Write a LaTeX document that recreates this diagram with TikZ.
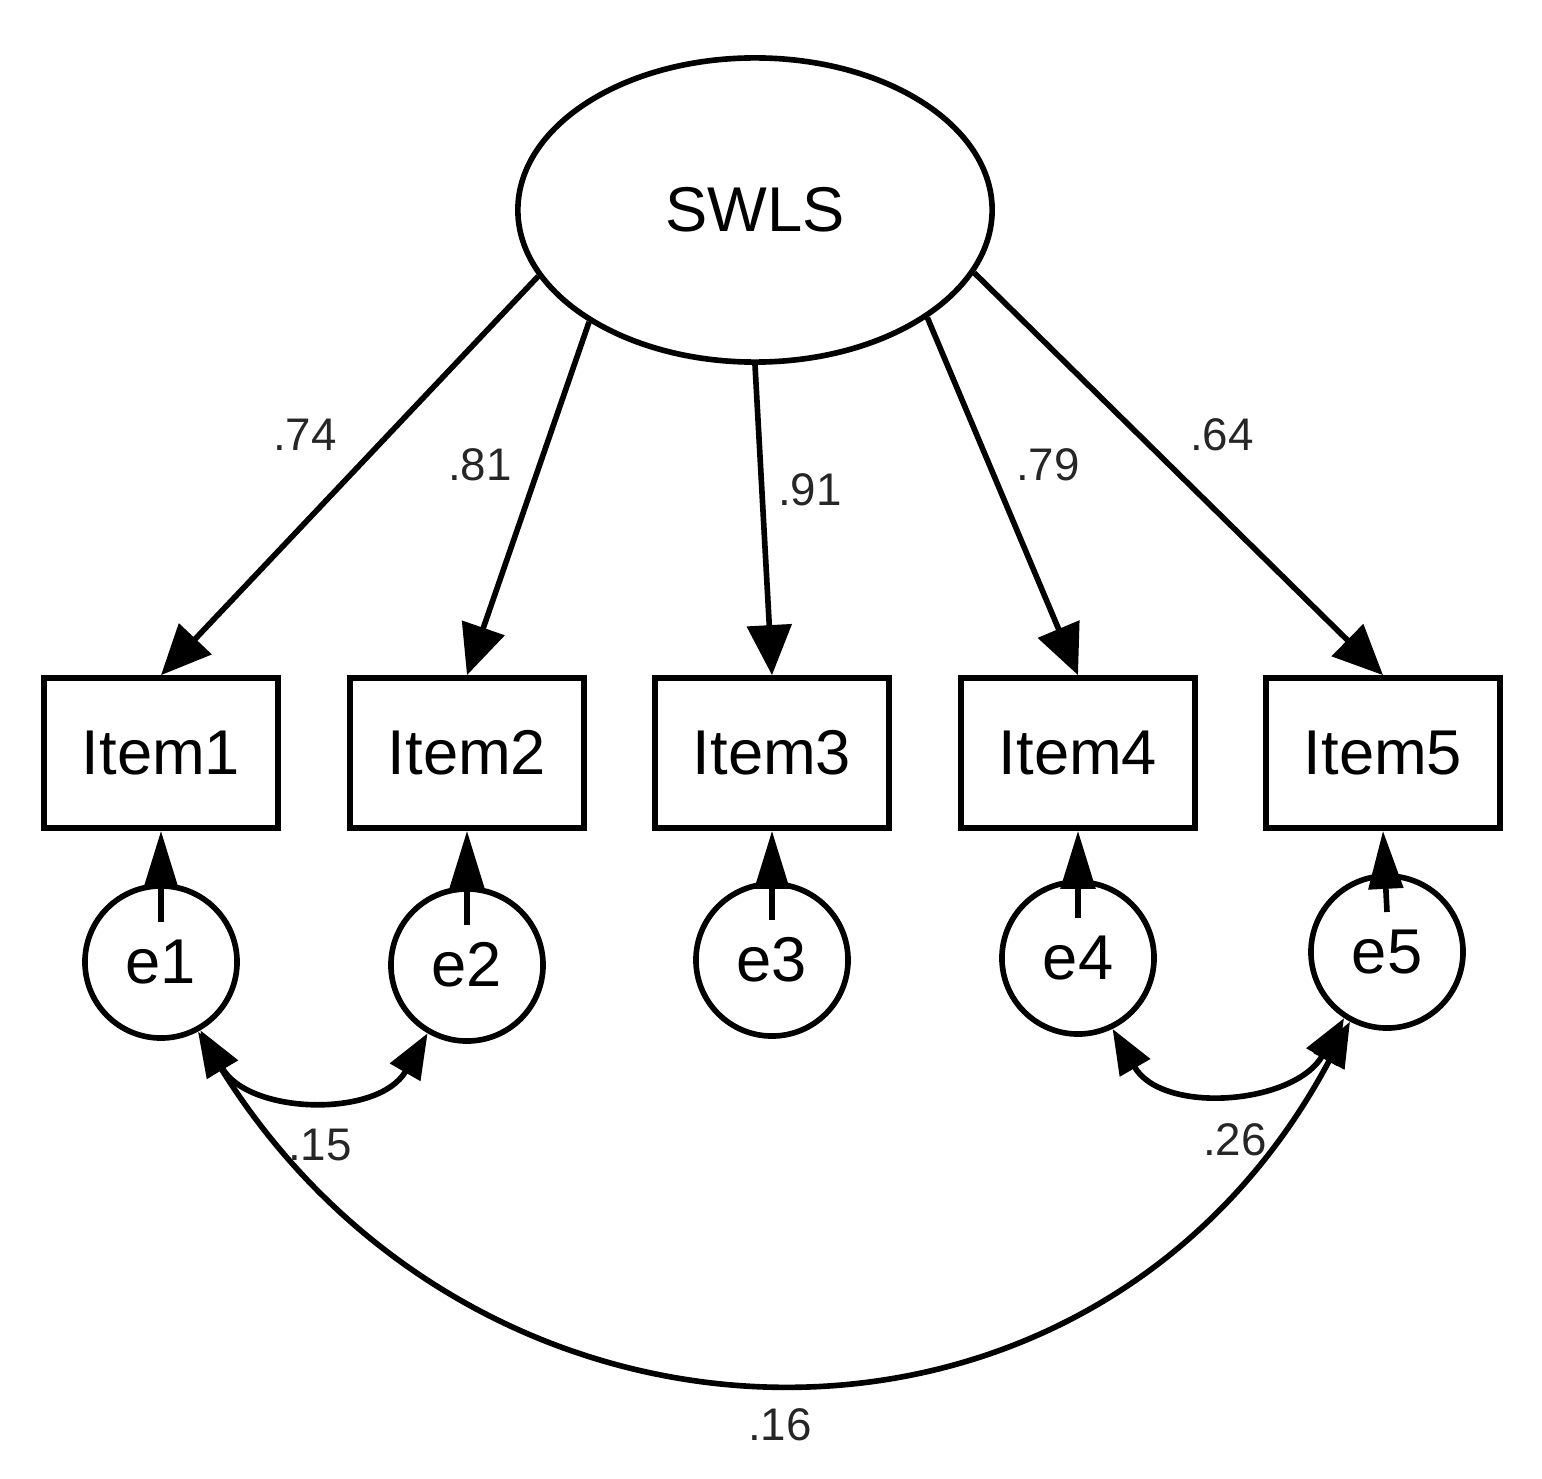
\documentclass[tikz,border=0pt]{standalone}
\usepackage{fontspec}
\setmainfont{Liberation Sans}
\usetikzlibrary{arrows.meta,shapes.geometric}
\begin{document}
\begin{tikzpicture}[x=0.01cm,y=-0.01cm,
  box/.style={draw,line width=1.6pt,minimum width=2.34cm,minimum height=1.5cm,font=\fontsize{18}{20}\selectfont},
  err/.style={draw,circle,line width=1.6pt,minimum size=1.52cm,inner sep=0pt,font=\fontsize{18}{20}\selectfont},
  big/.style={line width=1.6pt,-{Triangle[length=0.5cm,width=0.44cm]}},
  small/.style={line width=1.6pt,-{Triangle[length=0.58cm,width=0.34cm]}},
  cov/.style={line width=1.6pt,{Triangle[length=0.45cm,width=0.34cm]}-{Triangle[length=0.45cm,width=0.34cm]}},
  lab/.style={font=\fontsize{13}{15}\selectfont,text=black!85}]
\useasboundingbox (0,0) rectangle (1542,1479);
\node[draw,ellipse,line width=1.6pt,minimum width=4.74cm,minimum height=3.04cm,font=\fontsize{18}{20}\selectfont] (S) at (755,210) {SWLS};
\node[box] (i1) at (161,753) {Item1};
\node[box] (i2) at (467,753) {Item2};
\node[box] (i3) at (772,753) {Item3};
\node[box] (i4) at (1078,753) {Item4};
\node[box] (i5) at (1383,753) {Item5};
\node[err] (e1) at (161,962) {e1};
\node[err] (e2) at (467,965) {e2};
\node[err] (e3) at (772,960) {e3};
\node[err] (e4) at (1078,958) {e4};
\node[err] (e5) at (1387,952) {e5};
\draw[big] (S.-163.5) -- (i1.north);
\draw[big] (S.-146.9) -- (i2.north);
\draw[big] (S.-90) -- (i3.north);
\draw[big] (S.-32.9) -- (i4.north);
\draw[big] (S.-16.5) -- (i5.north);
\foreach \i in {1,...,5}{
  \draw[small] (e\i.center) ++(0,-40) coordinate (t\i) (t\i) -- (i\i.south);
}
\draw[cov] (e1.-60) to[out=-60,in=-120,looseness=1.1] (e2.-120);
\draw[cov] (e4.-64) to[out=-60,in=-120,looseness=1.1] (e5.-123);
\draw[cov] (e1.-62) to[out=-58,in=-118,looseness=1.2] (e5.-118);
\node[lab] (l1) at (305,435) {.74};
\node[lab] (l2) at (480,465) {.81};
\node[lab] (l3) at (810,490) {.91};
\node[lab] (l4) at (1048,465) {.79};
\node[lab] (l5) at (1222,435) {.64};
\node[lab] (l6) at (320,1145) {.15};
\node[lab] (l7) at (1235,1140) {.26};
\node[lab] (l8) at (780,1425) {.16};
\end{tikzpicture}
\end{document}
